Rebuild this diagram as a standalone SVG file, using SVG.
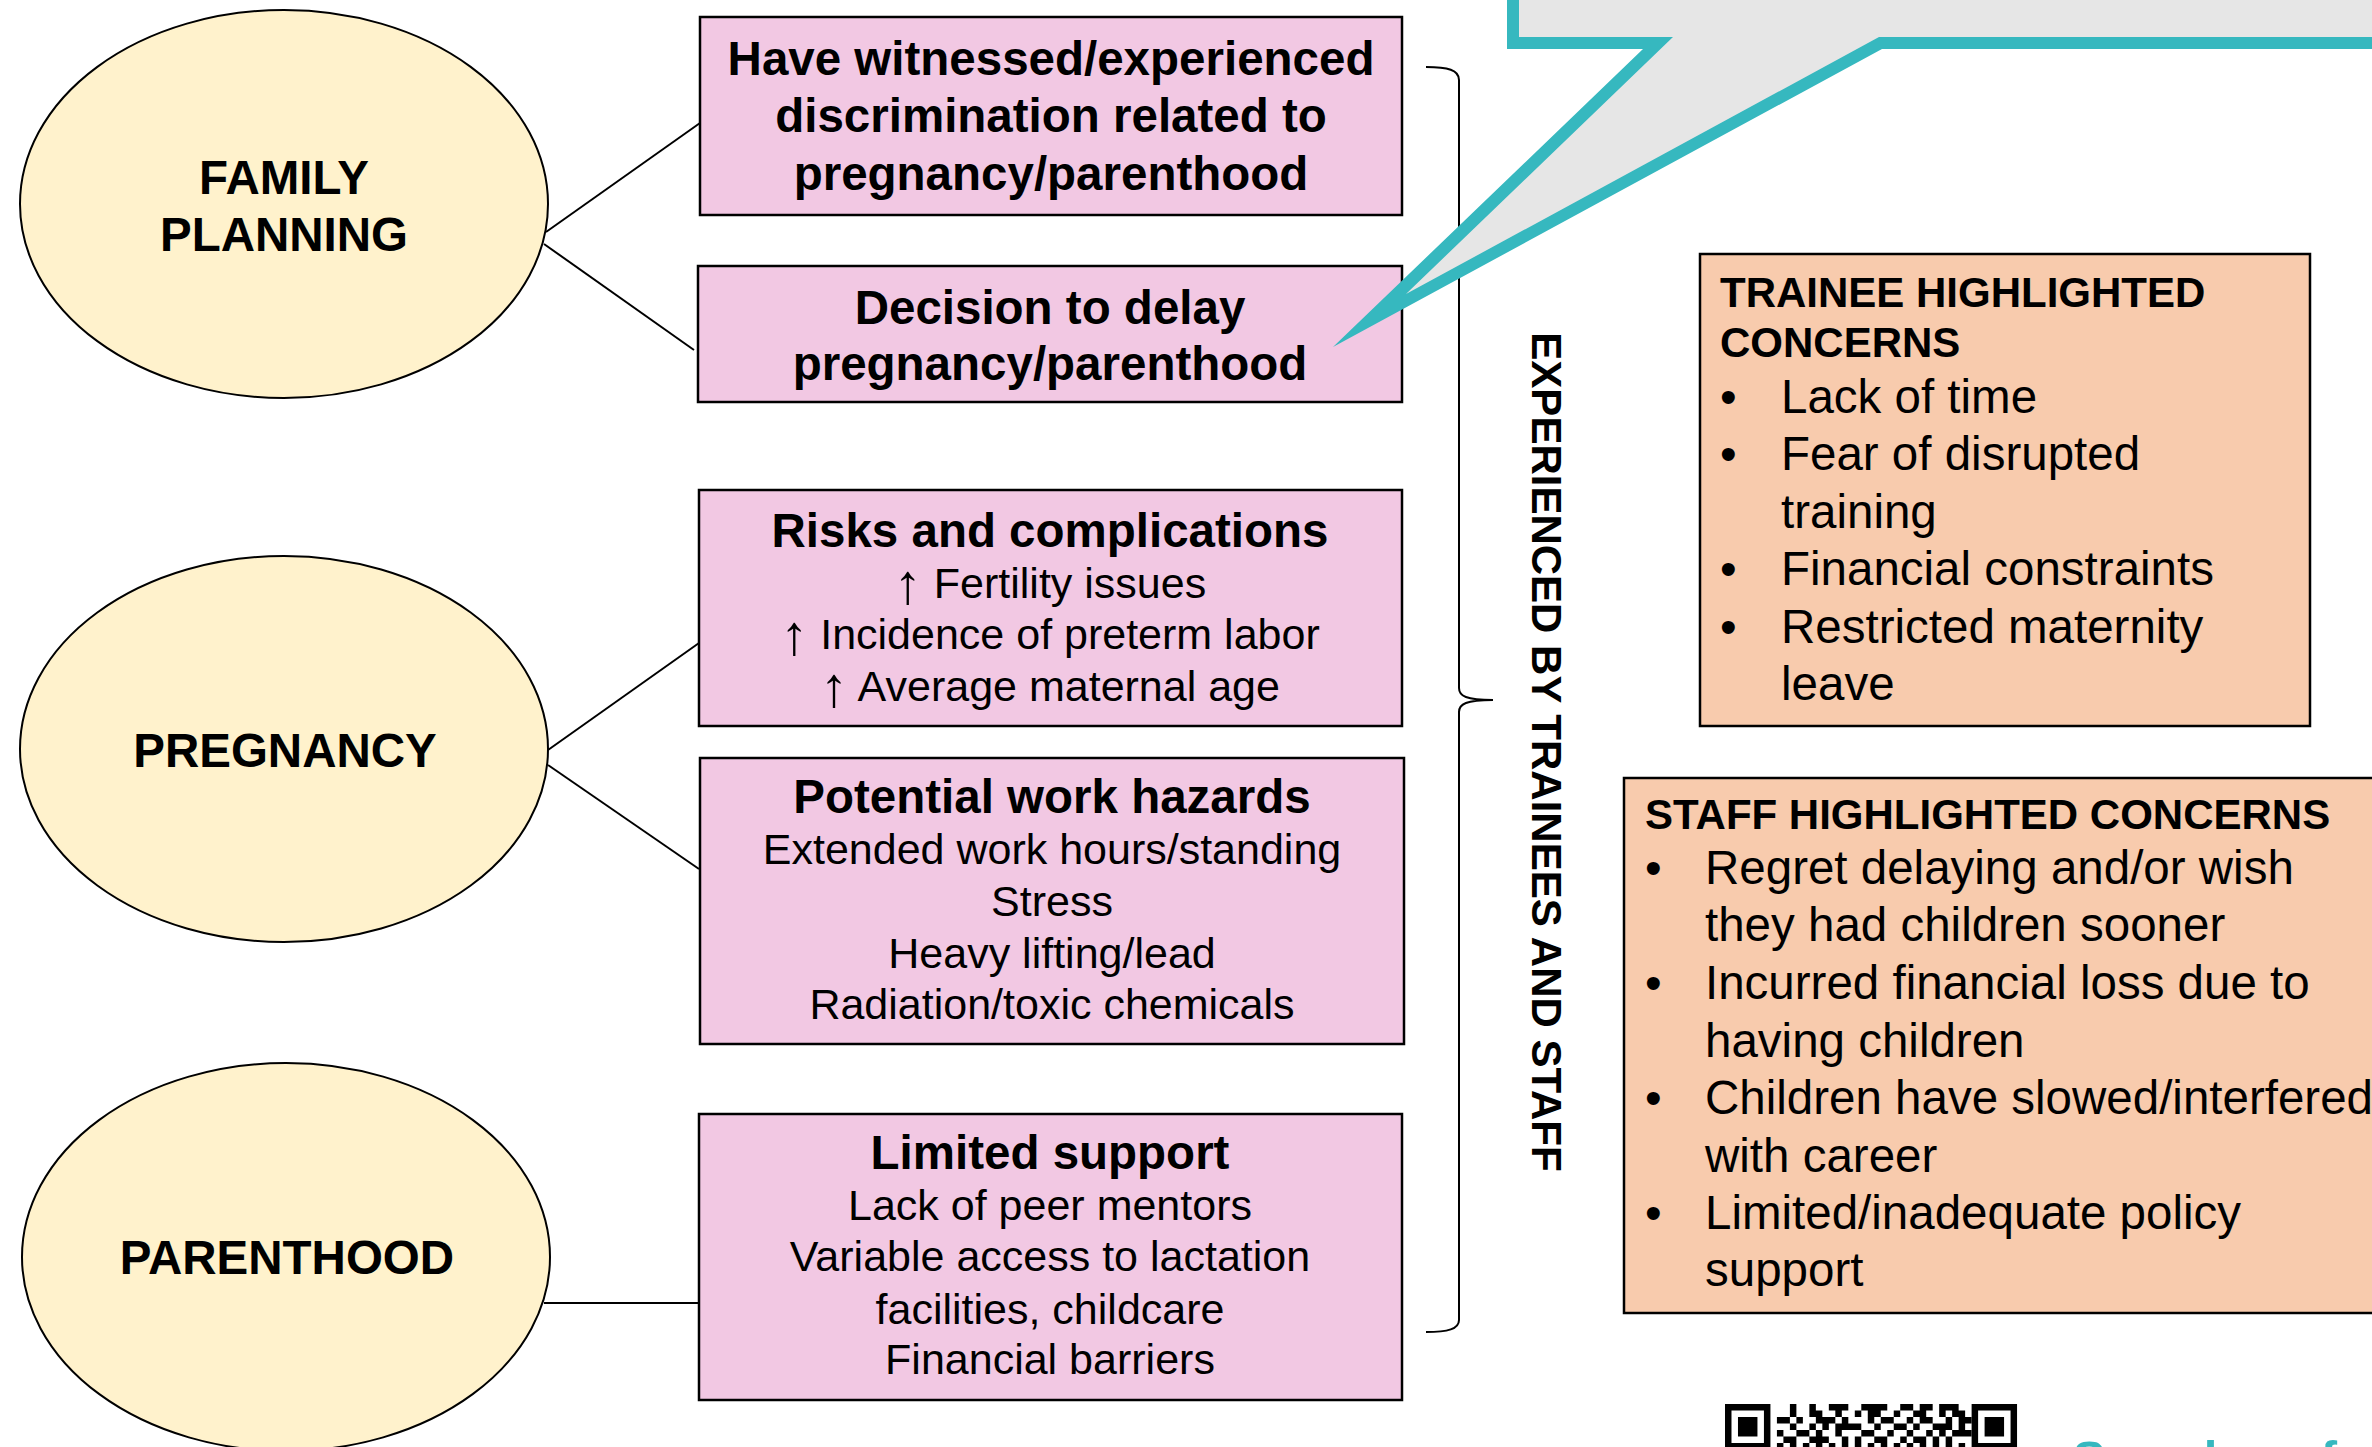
<svg xmlns="http://www.w3.org/2000/svg" width="2372" height="1447" viewBox="0 0 2372 1447">
  <style>
    .txt { font-family: "Liberation Sans", Arial, Helvetica, sans-serif; fill: #000; }
    .bold { font-weight: bold; }
    .stage { fill: #fff2cc; stroke: #000; stroke-width: 2; }
    .issue { fill: #f2c8e3; stroke: #000; stroke-width: 2.5; }
    .concern { fill: #f8cbad; stroke: #000; stroke-width: 2.5; }
    .title { font-size: 47.5px; font-weight: bold; text-anchor: middle; }
    .item { font-size: 43px; text-anchor: middle; }
    .up { font-size: 56px; }
    .head { font-size: 42px; font-weight: bold; }
    .bullet { font-size: 47.5px; }
    .link { fill: none; stroke: #000; stroke-width: 2; }
  </style>

  <rect x="0" y="0" width="2372" height="1447" fill="#ffffff"/>

  <!-- connectors between life stages and issues -->
  <g id="connectors">
    <line class="link" x1="546" y1="232" x2="700" y2="123"/>
    <line class="link" x1="544" y1="244" x2="694" y2="350"/>
    <line class="link" x1="548" y1="750" x2="699" y2="643"/>
    <line class="link" x1="548" y1="765" x2="699" y2="869"/>
    <line class="link" x1="544" y1="1303" x2="699" y2="1303"/>
  </g>

  <!-- life stages -->
  <g id="stage-family-planning">
    <ellipse class="stage" cx="284" cy="204" rx="264" ry="194"/>
    <text class="txt bold" font-size="47.5" text-anchor="middle" x="284" y="194">FAMILY</text>
    <text class="txt bold" font-size="47.5" text-anchor="middle" x="284" y="251">PLANNING</text>
  </g>
  <g id="stage-pregnancy">
    <ellipse class="stage" cx="284" cy="749" rx="264" ry="193"/>
    <text class="txt bold" font-size="47.5" text-anchor="middle" x="285" y="767">PREGNANCY</text>
  </g>
  <g id="stage-parenthood">
    <ellipse class="stage" cx="286" cy="1257" rx="264" ry="194"/>
    <text class="txt bold" font-size="47.5" text-anchor="middle" x="287" y="1274">PARENTHOOD</text>
  </g>

  <!-- issues -->
  <g id="issue-discrimination">
    <rect class="issue" x="700" y="17" width="702" height="198"/>
    <text class="txt title" x="1051" y="75">Have witnessed/experienced</text>
    <text class="txt title" x="1051" y="132">discrimination related to</text>
    <text class="txt title" x="1051" y="190">pregnancy/parenthood</text>
  </g>
  <g id="issue-delay">
    <rect class="issue" x="698" y="266" width="704" height="136"/>
    <text class="txt title" x="1050" y="324">Decision to delay</text>
    <text class="txt title" x="1050" y="380">pregnancy/parenthood</text>
  </g>
  <g id="issue-risks">
    <rect class="issue" x="699" y="490" width="703" height="236"/>
    <text class="txt title" x="1050" y="547">Risks and complications</text>
    <text class="txt item" x="1050" y="598"><tspan class="up" dy="5">↑</tspan><tspan dy="-5"> Fertility issues</tspan></text>
    <text class="txt item" x="1050" y="649"><tspan class="up" dy="5">↑</tspan><tspan dy="-5"> Incidence of preterm labor</tspan></text>
    <text class="txt item" x="1050" y="701"><tspan class="up" dy="5">↑</tspan><tspan dy="-5"> Average maternal age</tspan></text>
  </g>
  <g id="issue-hazards">
    <rect class="issue" x="700" y="758" width="704" height="286"/>
    <text class="txt title" x="1052" y="813">Potential work hazards</text>
    <text class="txt item" x="1052" y="864">Extended work hours/standing</text>
    <text class="txt item" x="1052" y="916">Stress</text>
    <text class="txt item" x="1052" y="968">Heavy lifting/lead</text>
    <text class="txt item" x="1052" y="1019">Radiation/toxic chemicals</text>
  </g>
  <g id="issue-support">
    <rect class="issue" x="699" y="1114" width="703" height="286"/>
    <text class="txt title" x="1050" y="1169">Limited support</text>
    <text class="txt item" x="1050" y="1220">Lack of peer mentors</text>
    <text class="txt item" x="1050" y="1271">Variable access to lactation</text>
    <text class="txt item" x="1050" y="1324">facilities, childcare</text>
    <text class="txt item" x="1050" y="1374">Financial barriers</text>
  </g>

  <!-- brace grouping all issues -->
  <g id="brace">
    <path class="link" d="M1426,67 C1448,67 1459,70 1459,80 L1459,688 C1459,696 1466,700 1493,700 C1466,700 1459,704 1459,712 L1459,1320 C1459,1329 1448,1332 1426,1332"/>
    <text class="txt bold" font-size="42" text-anchor="middle" transform="translate(1532,752) rotate(90)">EXPERIENCED BY TRAINEES AND STAFF</text>
  </g>

  <!-- speech callout -->
  <g id="callout">
    <path fill="#36b8bf" d="M1507,-20 L1507,49 L1643,49 L1333,347 L1882,49 L2390,49 L2390,-20 Z"/>
    <path fill="#e6e6e6" d="M1519,-20 L1519,37 L1673,37 L1406,294 L1879,37 L2390,37 L2390,-20 Z"/>
  </g>

  <!-- concerns -->
  <g id="concerns-trainee">
    <rect class="concern" x="1700" y="254" width="610" height="472"/>
    <text class="txt head" x="1720" y="307">TRAINEE HIGHLIGHTED</text>
    <text class="txt head" x="1720" y="357">CONCERNS</text>
    <g class="txt bullet">
      <text x="1720" y="413">•</text><text x="1781" y="413">Lack of time</text>
      <text x="1720" y="470">•</text><text x="1781" y="470">Fear of disrupted</text>
      <text x="1781" y="528">training</text>
      <text x="1720" y="585">•</text><text x="1781" y="585">Financial constraints</text>
      <text x="1720" y="643">•</text><text x="1781" y="643">Restricted maternity</text>
      <text x="1781" y="700">leave</text>
    </g>
  </g>
  <g id="concerns-staff">
    <rect class="concern" x="1624" y="778" width="790" height="535"/>
    <text class="txt head" x="1645" y="829">STAFF HIGHLIGHTED CONCERNS</text>
    <g class="txt bullet">
      <text x="1645" y="884">•</text><text x="1705" y="884">Regret delaying and/or wish</text>
      <text x="1705" y="941">they had children sooner</text>
      <text x="1645" y="999">•</text><text x="1705" y="999">Incurred financial loss due to</text>
      <text x="1705" y="1057">having children</text>
      <text x="1645" y="1114">•</text><text x="1705" y="1114">Children have slowed/interfered</text>
      <text x="1705" y="1172">with career</text>
      <text x="1645" y="1229">•</text><text x="1705" y="1229">Limited/inadequate policy</text>
      <text x="1705" y="1286">support</text>
    </g>
  </g>

  <!-- QR code (top rows) and its caption -->
  <g id="qr" transform="translate(1725,1404) scale(6.49)" fill="#000">
    <path fill-rule="evenodd" d="M0 0h7v7h-7z M1 1h5v5h-5z M2 2h3v3h-3z M38 0h7v7h-7z M39 1h5v5h-5z M40 2h3v3h-3z"/>
    <path d="M10 0h1v1h-1z M13 0h1v1h-1z M16 0h3v1h-3z M21 0h4v1h-4z M27 0h2v1h-2z M30 0h2v1h-2z M33 0h3v1h-3z
             M10 1h1v1h-1z M13 1h2v1h-2z M17 1h1v1h-1z M20 1h1v1h-1z M22 1h2v1h-2z M26 1h1v1h-1z M29 1h2v1h-2z M33 1h1v1h-1z M35 1h2v1h-2z
             M8 2h2v1h-2z M11 2h1v1h-1z M14 2h3v1h-3z M18 2h1v1h-1z M22 2h1v1h-1z M24 2h2v1h-2z M28 2h1v1h-1z M30 2h2v1h-2z M34 2h1v1h-1z M36 2h2v1h-2z
             M10 3h1v1h-1z M13 3h1v1h-1z M15 3h1v1h-1z M17 3h4v1h-4z M23 3h1v1h-1z M26 3h2v1h-2z M29 3h1v1h-1z M32 3h3v1h-3z M36 3h1v1h-1z
             M8 4h1v1h-1z M11 4h2v1h-2z M14 4h1v1h-1z M17 4h1v1h-1z M21 4h2v1h-2z M25 4h1v1h-1z M28 4h1v1h-1z M31 4h1v1h-1z M33 4h1v1h-1z M35 4h3v1h-3z
             M9 5h2v1h-2z M13 5h3v1h-3z M18 5h1v1h-1z M20 5h1v1h-1z M23 5h2v1h-2z M27 5h1v1h-1z M29 5h2v1h-2z M32 5h1v1h-1z M34 5h1v1h-1z
             M8 6h1v1h-1z M10 6h1v1h-1z M12 6h1v1h-1z M14 6h1v1h-1z M16 6h1v1h-1z M18 6h1v1h-1z M20 6h1v1h-1z M22 6h1v1h-1z M24 6h1v1h-1z M26 6h1v1h-1z M28 6h1v1h-1z M30 6h1v1h-1z M32 6h1v1h-1z M34 6h1v1h-1z M36 6h1v1h-1z"/>
  </g>
  <text class="txt bold" font-size="49" x="2073" y="1475" style="fill:#36b8bf">Scan here for</text>
</svg>
